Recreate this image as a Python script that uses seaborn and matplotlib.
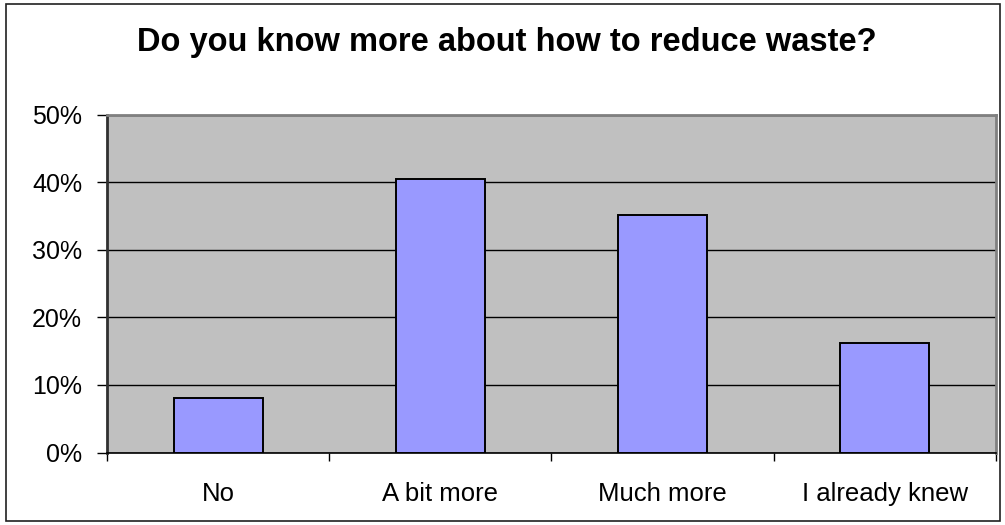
import matplotlib
matplotlib.use("Agg")
import matplotlib.pyplot as plt
import matplotlib.ticker as mticker
from matplotlib.patches import Rectangle
import seaborn as sns
import pandas as pd

# Survey responses
categories = ["No", "A bit more", "Much more", "I already knew"]
shares = [8.1, 40.5, 35.2, 16.2]          # percent of respondents
y_ticks = [0, 10, 20, 30, 40, 50]

sns.set_style("white")
plt.rcParams["font.family"] = ["Liberation Sans", "DejaVu Sans"]
plt.rcParams["text.color"] = "black"

df = pd.DataFrame({"answer": categories, "share": shares})

fig = plt.figure(figsize=(10.05, 5.25), dpi=100)
ax = fig.add_axes([0.1065, 0.138, 0.8845, 0.6435])
ax.set_facecolor("#C0C0C0")

sns.barplot(data=df, x="answer", y="share", ax=ax, color="#9999FF",
            width=0.40, edgecolor="black", linewidth=1.4, saturation=1,
            zorder=3)

ax.set_xlim(-0.5, len(categories) - 0.5)
ax.set_ylim(0, 50)
ax.set_xlabel("")
ax.set_ylabel("")

# horizontal gridlines
ax.set_yticks(y_ticks)
ax.yaxis.set_major_formatter(mticker.FuncFormatter(lambda v, _: f"{v:.0f}%"))
ax.grid(axis="y", color="black", linewidth=1.0, zorder=1)
ax.grid(axis="x", visible=False)
ax.set_axisbelow(True)

# category labels centred, tick marks on category boundaries
ax.set_xticks(range(len(categories)))
ax.set_xticklabels(categories)
ax.set_xticks([i - 0.5 for i in range(len(categories) + 1)], minor=True)
ax.tick_params(axis="x", which="major", length=0, pad=21, labelsize=18.5,
               colors="black")
ax.tick_params(axis="x", which="minor", length=6, width=1.0,
               color="black", direction="out", bottom=True)
ax.tick_params(axis="y", which="major", length=7, width=1.0, pad=11,
               labelsize=18, colors="black", direction="out", left=True)

for side in ["top", "right"]:
    ax.spines[side].set_color("#808080")
    ax.spines[side].set_linewidth(2.0)
ax.spines["left"].set_color("#303030")
ax.spines["left"].set_linewidth(2.0)
ax.spines["bottom"].set_color("black")
ax.spines["bottom"].set_linewidth(1.2)

fig.text(0.504, 0.903, "Do you know more about how to reduce waste?",
         ha="center", va="baseline", fontsize=23.5, fontweight="bold",
         color="black")

# outer frame of the chart
fig.patches.append(Rectangle((5.5 / 1005, 4 / 525), 994 / 1005, 517 / 525,
                             transform=fig.transFigure, fill=False,
                             edgecolor="#202020", linewidth=1.2))

fig.savefig("out.png", dpi=100)
